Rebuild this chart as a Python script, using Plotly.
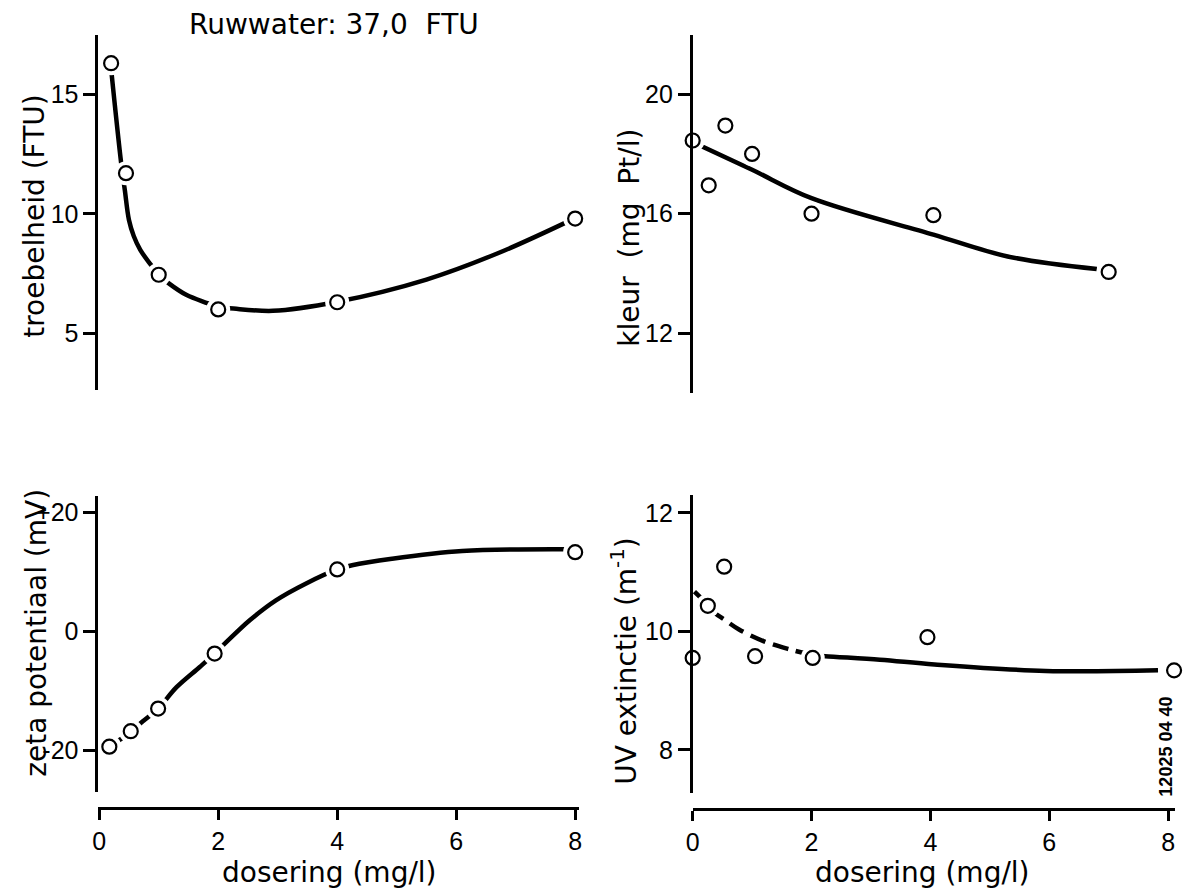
import plotly.graph_objects as go

W, H = 1185, 893

# ---------------- data ----------------
# troebelheid (top-left)
dose_t = [0.2, 0.45, 1.0, 2.0, 4.0, 8.0]
turb = [16.3, 11.7, 7.45, 6.0, 6.3, 9.8]
curve_t_x = [0.19, 0.37, 0.43, 0.5, 0.58, 0.69, 0.87, 1.0, 1.17, 1.47, 1.83, 2.0, 2.19, 2.92, 4.0, 5.5, 6.7, 8.0]
curve_t_y = [16.3, 12.1, 11.0, 9.74, 9.07, 8.49, 7.86, 7.45, 7.09, 6.6, 6.25, 6.08, 6.05, 5.94, 6.32, 7.25, 8.35, 9.82]

# kleur (top-right)
dose_k = [0.0, 0.27, 0.55, 1.0, 2.0, 4.05, 7.0]
kleur = [18.45, 16.95, 18.95, 18.0, 16.0, 15.95, 14.05]
curve_k_x = [0.0, 1.0, 2.0, 4.05, 5.3, 6.8]
curve_k_y = [18.4, 17.47, 16.52, 15.3, 14.57, 14.15]

# zeta potentiaal (bottom-left)
dose_z = [0.17, 0.53, 0.99, 1.94, 4.0, 8.0]
zeta = [-19.4, -16.8, -13.0, -3.75, 10.4, 13.3]
curve_z_x = [0.0, 0.17, 0.33, 0.53, 0.75, 0.99, 1.3, 1.69, 1.94, 2.14, 2.53, 2.97, 3.47, 4.0, 4.25, 4.92, 6.1, 7.82]
curve_z_y = [-20.2, -19.4, -18.35, -16.8, -15.0, -13.0, -9.4, -6.0, -3.75, -1.8, 1.85, 5.2, 8.0, 10.4, 11.1, 12.2, 13.5, 13.8]

# UV extinctie (bottom-right)
dose_u = [0.0, 0.255, 0.53, 1.05, 2.02, 3.95, 8.1]
uv = [9.55, 10.43, 11.09, 9.58, 9.55, 9.9, 9.34]
curve_u_dash_x = [0.03, 0.25, 0.37, 0.53, 0.78, 1.2, 1.65, 2.0]
curve_u_dash_y = [10.67, 10.45, 10.31, 10.2, 10.03, 9.83, 9.69, 9.6]
curve_u_x = [2.0, 2.23, 3.15, 4.07, 5.94, 7.83]
curve_u_y = [9.6, 9.58, 9.52, 9.44, 9.33, 9.34]

x_ticks = [0, 2, 4, 6, 8]
x_ticktext = ["0", "2", "4", "6", "8"]
t_ticks = [5, 10, 15]
k_ticks = [12, 16, 20]
z_ticks = [-20, 0, 20]
z_ticktext = ["-20", "0", "+20"]
u_ticks = [8, 10, 12]

# ---------------- helpers ----------------
def px_x(p):
    return p / W

def px_y(p):
    return 1 - p / H

TICKFONT = dict(family="Liberation Sans, Arial, sans-serif", size=25, color="black")
TITLEFONT = dict(family="DejaVu Sans, sans-serif", size=28, color="black")

fig = go.Figure()

panels = [
    ("x", "y", curve_t_x, curve_t_y, dose_t, turb),
    ("x2", "y2", curve_k_x, curve_k_y, dose_k, kleur),
    ("x3", "y3", curve_z_x, curve_z_y, dose_z, zeta),
    ("x4", "y4", curve_u_x, curve_u_y, dose_u, uv),
]

for xa, ya, cx, cy, px_, py_ in panels:
    fig.add_trace(go.Scatter(x=cx, y=cy, xaxis=xa, yaxis=ya, mode="lines",
                             line=dict(color="black", width=4.5, shape="spline", smoothing=1.0),
                             cliponaxis=False, hoverinfo="skip", showlegend=False))
    if xa == "x4":
        fig.add_trace(go.Scatter(x=curve_u_dash_x, y=curve_u_dash_y, xaxis=xa, yaxis=ya, mode="lines",
                                 line=dict(color="black", width=4.5, shape="spline", dash="16px,8px"),
                                 cliponaxis=False, hoverinfo="skip", showlegend=False))
    # white halo to break the curve around the markers
    fig.add_trace(go.Scatter(x=px_, y=py_, xaxis=xa, yaxis=ya, mode="markers",
                             marker=dict(symbol="circle", size=24, color="white", line=dict(width=0)),
                             cliponaxis=False, hoverinfo="skip", showlegend=False))
    fig.add_trace(go.Scatter(x=px_, y=py_, xaxis=xa, yaxis=ya, mode="markers",
                             marker=dict(symbol="circle", size=14, color="white",
                                         line=dict(color="black", width=2.2)),
                             cliponaxis=False, showlegend=False))

yaxis_common = dict(showline=True, linecolor="black", linewidth=2.5, ticks="outside",
                    ticklen=12, tickwidth=2.5, tickcolor="black", showgrid=False,
                    zeroline=False, tickfont=TICKFONT, fixedrange=True)
xaxis_common = dict(showline=True, linecolor="black", linewidth=2.5, ticks="outside",
                    ticklen=10, tickwidth=2.5, tickcolor="black", showgrid=False,
                    zeroline=False, tickfont=TICKFONT, tickvals=x_ticks, ticktext=x_ticktext,
                    fixedrange=True)

left_dom = [px_x(92), px_x(577)]
left_rng = [-1 / 60, 484 / 60]
right_dom = [px_x(691.5), px_x(1178)]
right_rng = [0, 8 + 7 / 59.94]

fig.update_layout(
    width=W, height=H,
    margin=dict(l=0, r=0, t=0, b=0),
    paper_bgcolor="white", plot_bgcolor="white",
    showlegend=False,
    xaxis=dict(domain=left_dom, range=left_rng, visible=False, anchor="y"),
    xaxis2=dict(domain=right_dom, range=right_rng, visible=False, anchor="y2"),
    xaxis3=dict(domain=left_dom, range=left_rng, anchor="free", position=px_y(808), **xaxis_common),
    xaxis4=dict(domain=right_dom, range=right_rng, anchor="free", position=px_y(809), **xaxis_common),
    yaxis=dict(domain=[px_y(390), px_y(35)], range=[2.63, 17.48], anchor="x",
               tickvals=t_ticks, **yaxis_common),
    yaxis2=dict(domain=[px_y(393), px_y(35)], range=[10.0, 21.98], anchor="x2",
                tickvals=k_ticks, **yaxis_common),
    yaxis3=dict(domain=[px_y(792), px_y(496)], range=[-27.02, 22.74], anchor="x3",
                tickvals=z_ticks, ticktext=z_ticktext, **yaxis_common),
    yaxis4=dict(domain=[px_y(793), px_y(495)], range=[7.27, 12.3], anchor="x4",
                tickvals=u_ticks, **yaxis_common),
)

def ann(text, x, y, angle=0, font=TITLEFONT):
    fig.add_annotation(text=text, x=px_x(x), y=px_y(y), xref="paper", yref="paper",
                       xanchor="center", yanchor="middle", showarrow=False,
                       textangle=angle, font=font)

NB = "\u00a0"
ann("Ruwwater:" + NB + "37,0" + NB + NB + "FTU", 330, 25)
ann("troebelheid" + NB + "(FTU)", 27, 216, -90)
ann("kleur" + NB + NB + "(mg" + NB + NB + "Pt/l)", 628, 238, -90)
ann("zeta potentiaal" + NB + "(mV)", 29, 633, -90)
ann("UV extinctie (m<sup>-1</sup>)", 622, 661, -90)
ann("dosering" + NB + "(mg/l)", 325, 872)
ann("dosering" + NB + "(mg/l)", 923, 872)
ann("<b>12025 04 40</b>", 1168, 746.5, -90,
    font=dict(family="Liberation Sans, Arial, sans-serif", size=18, color="black"))

fig.write_html("out.html")
